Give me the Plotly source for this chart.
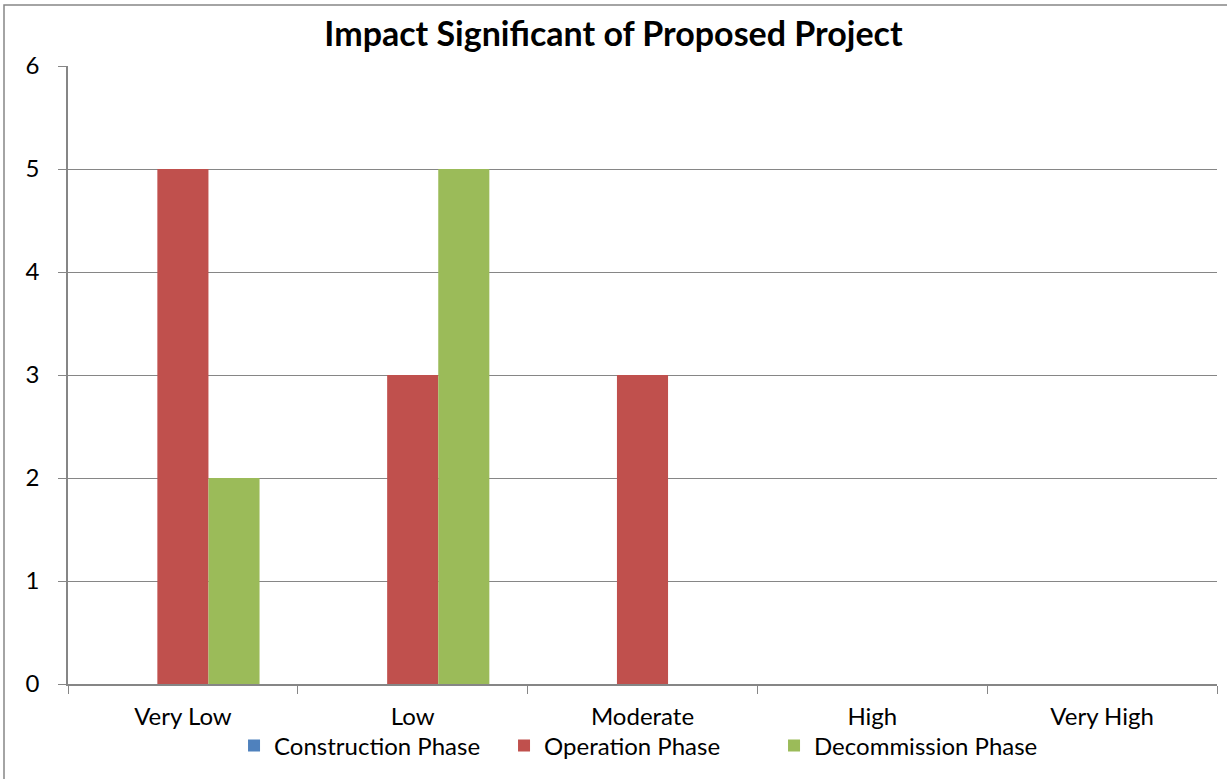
import plotly.graph_objects as go

categories = ["Very Low", "Low", "Moderate", "High", "Very High"]
construction = [0, 0, 0, 0, 0]
operation = [5, 3, 3, 0, 0]
decommission = [2, 5, 0, 0, 0]

FONT = "Lato, Calibri, Carlito, sans-serif"

fig = go.Figure()
fig.add_bar(name="Construction Phase", x=categories, y=construction, marker_color="#4F81BD")
fig.add_bar(name="Operation Phase", x=categories, y=operation, marker_color="#C0504D")
fig.add_bar(name="Decommission Phase", x=categories, y=decommission, marker_color="#9BBB59")

fig.update_traces(marker_line_width=0)

fig.update_layout(
    width=1227, height=779,
    barmode="group", bargap=0.333, bargroupgap=0,
    paper_bgcolor="white", plot_bgcolor="white",
    margin=dict(l=68, r=10, t=66, b=95, autoexpand=False),
    font=dict(family=FONT, size=24, color="black"),
    title=dict(text="<b>Impact Significant of Proposed Project</b>",
               x=0.5, xanchor="center", y=0.956, yanchor="middle",
               font=dict(family=FONT, size=34, color="black")),
    legend=dict(orientation="h", x=0.1445, xanchor="left", y=-0.1, yanchor="middle",
                font=dict(family=FONT, size=24), itemwidth=30, traceorder="normal",
                entrywidth=225, entrywidthmode="pixels",
                bgcolor="rgba(0,0,0,0)", tracegroupgap=0),
    showlegend=True,
)

fig.update_xaxes(
    showline=True, linecolor="#868686", linewidth=1.5,
    ticks="outside", tickson="boundaries", ticklen=8, tickcolor="#868686",
    showgrid=False, tickfont=dict(family=FONT, size=24), ticklabelstandoff=10,
    automargin=False,
)
fig.update_yaxes(
    range=[0, 6], dtick=1, showline=True, linecolor="#868686", linewidth=1.5,
    ticks="outside", ticklen=8, tickcolor="#868686",
    showgrid=True, gridcolor="#868686", gridwidth=1.2, zeroline=False,
    tickfont=dict(family=FONT, size=24), ticklabelstandoff=14, automargin=False,
)

fig.add_shape(type="rect", xref="paper", yref="paper",
              x0=-64/1149, x1=1.02, y0=-0.2, y1=1 + 61/618,
              line=dict(color="#868686", width=1.5), fillcolor="rgba(0,0,0,0)", layer="below")

fig.write_html("out.html")
